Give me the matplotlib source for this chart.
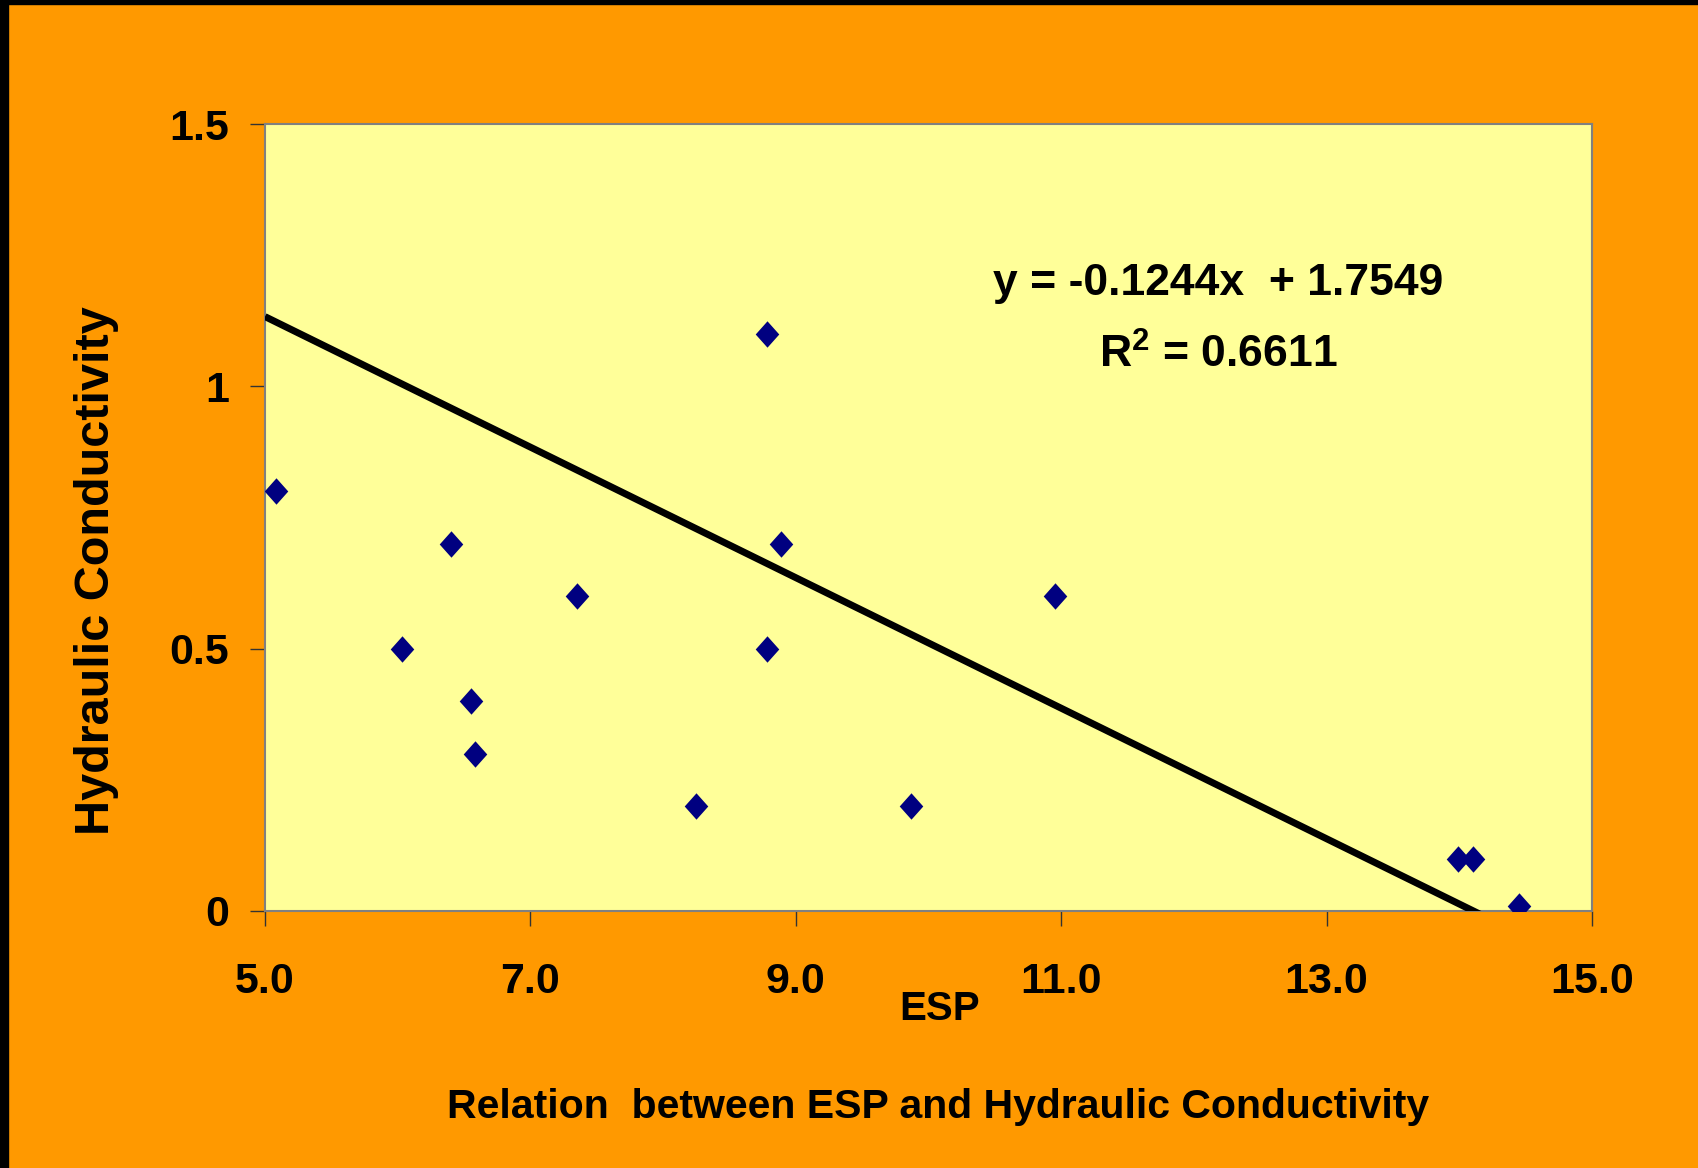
import matplotlib
matplotlib.use("Agg")
import matplotlib.pyplot as plt
from matplotlib.patches import Rectangle
import numpy as np

# ---- data ----
esp = [5.08, 6.03, 6.40, 6.55, 6.58, 7.35, 8.25, 8.78, 8.78, 8.89, 9.87, 10.95, 13.99, 14.10, 14.45]
hc = [0.80, 0.50, 0.70, 0.40, 0.30, 0.60, 0.20, 1.10, 0.50, 0.70, 0.20, 0.60, 0.10, 0.10, 0.01]
slope = -0.1244
intercept = 1.7549
r2 = 0.6611
x_ticks = [5.0, 7.0, 9.0, 11.0, 13.0, 15.0]
x_tick_labels = ["5.0", "7.0", "9.0", "11.0", "13.0", "15.0"]
y_ticks = [0, 0.5, 1, 1.5]
y_tick_labels = ["0", "0.5", "1", "1.5"]
title = "Relation  between ESP and Hydraulic Conductivity"
x_label = "ESP"
y_label = "Hydraulic Conductivity"

plt.rcParams['font.family'] = ['Liberation Sans', 'DejaVu Sans']
plt.rcParams['mathtext.fontset'] = 'custom'
plt.rcParams['mathtext.rm'] = 'Liberation Sans:bold'
plt.rcParams['mathtext.bf'] = 'Liberation Sans:bold'
plt.rcParams['mathtext.it'] = 'Liberation Sans:bold'

W, H = 1698, 1168
fig = plt.figure(figsize=(W / 100, H / 100), dpi=100)
fig.patch.set_facecolor('#FF9900')

# black frame strips (top and left)
fig.add_artist(Rectangle((0, 0), 8 / W, 1, transform=fig.transFigure, color='black', zorder=0))
fig.add_artist(Rectangle((0, 1 - 4 / H), 1, 4 / H, transform=fig.transFigure, color='black', zorder=0))

left, right, top, bottom = 265, 1592, 124, 911
ax = fig.add_axes([left / W, 1 - bottom / H, (right - left) / W, (bottom - top) / H])
ax.set_facecolor('#FFFF99')

diamond = [(-1, 0), (0, 1.12), (1, 0), (0, -1.12), (-1, 0)]
ax.scatter(esp, hc, marker=diamond, s=19.0 ** 2, color='#000080', zorder=3, linewidths=0)

xs = np.array([x_ticks[0], max(esp)])
ax.plot(xs, slope * xs + intercept, color='black', lw=5.0, zorder=4, solid_capstyle='butt')

ax.set_xlim(x_ticks[0], x_ticks[-1])
ax.set_ylim(y_ticks[0], y_ticks[-1])
ax.set_xticks(x_ticks)
ax.set_xticklabels(x_tick_labels)
ax.set_yticks(y_ticks)
ax.set_yticklabels(y_tick_labels)

for s in ax.spines.values():
    s.set_color('#808080')
    s.set_linewidth(1.5)

ax.tick_params(axis='x', direction='out', length=10.8, width=1, color='#333333',
               pad=26, labelsize=31)
ax.tick_params(axis='y', direction='out', length=10.8, width=1, color='#333333',
               pad=15, labelsize=31)
for lab in ax.get_xticklabels() + ax.get_yticklabels():
    lab.set_fontweight('bold')

fig.text(96.7 / W, 1 - 571 / H, y_label, rotation=90, ha='center', va='center',
         fontsize=35, fontweight='bold')
fig.text(940 / W, 1 - 1009 / H, x_label, ha='center', va='center',
         fontsize=29, fontweight='bold')
fig.text(938 / W, 1 - 1107 / H, title, ha='center', va='center',
         fontsize=29.5, fontweight='bold')

fig.text(1218 / W, 1 - 284 / H, f"y = {slope:.4f}x  + {intercept:.4f}", ha='center', va='center',
         fontsize=32, fontweight='bold')
fig.text(1218 / W, 1 - 355 / H, f"R$^2$ = {r2:.4f}", ha='center', va='center',
         fontsize=32, fontweight='bold')

fig.savefig('out.png', dpi=100, facecolor=fig.get_facecolor())
